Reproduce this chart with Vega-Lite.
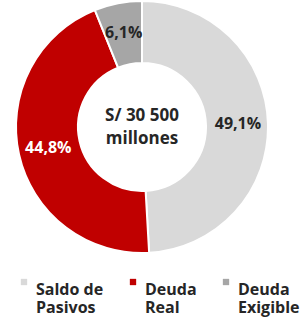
{
  "$schema": "https://vega.github.io/schema/vega-lite/v6.json",
  "width": 284,
  "height": 254,
  "autosize": "none",
  "padding": {"left": 0, "top": 0, "right": 19, "bottom": 64},
  "background": "white",
  "datasets": {
    "slices": [
      {"categoria": "Saldo de Pasivos", "pct": 49.1, "etiqueta": "49,1%", "orden": 1},
      {"categoria": "Deuda Real", "pct": 44.8, "etiqueta": "44,8%", "orden": 2},
      {"categoria": "Deuda Exigible", "pct": 6.1, "etiqueta": "6,1%", "orden": 3}
    ],
    "centro": [{"texto": "S/ 30 500\nmillones"}]
  },
  "layer": [
    {
      "data": {"name": "slices"},
      "mark": {"type": "arc", "outerRadius": 126, "innerRadius": 64, "stroke": "white", "strokeWidth": 2},
      "encoding": {
        "theta": {"field": "pct", "type": "quantitative", "stack": true},
        "order": {"field": "orden", "type": "quantitative"},
        "color": {
          "field": "categoria",
          "type": "nominal",
          "scale": {
            "domain": ["Saldo de Pasivos", "Deuda Real", "Deuda Exigible"],
            "range": ["#d9d9d9", "#c00000", "#a6a6a6"]
          },
          "legend": {
            "title": null,
            "orient": "none",
            "legendX": 16,
            "legendY": 274,
            "direction": "horizontal",
            "symbolType": "square",
            "symbolSize": 40,
            "symbolStrokeWidth": 0,
            "symbolOffset": 0,
            "labelFont": "Open Sans",
            "labelFontSize": 16,
            "labelFontWeight": "bold",
            "labelColor": "#262626",
            "labelLineHeight": 18,
            "labelBaseline": "top",
            "labelOffset": 4,
            "columnPadding": 21,
            "labelExpr": "datum.label == 'Saldo de Pasivos' ? ['Saldo de', 'Pasivos'] : split(datum.label, ' ')"
          }
        }
      }
    },
    {
      "data": {"name": "slices"},
      "mark": {"type": "text", "radius": 96, "font": "Open Sans", "fontSize": 16, "fontWeight": "bold"},
      "encoding": {
        "theta": {"field": "pct", "type": "quantitative", "stack": true},
        "order": {"field": "orden", "type": "quantitative"},
        "text": {"field": "etiqueta", "type": "nominal"},
        "color": {
          "field": "categoria",
          "type": "nominal",
          "scale": {
            "domain": ["Saldo de Pasivos", "Deuda Real", "Deuda Exigible"],
            "range": ["#262626", "#ffffff", "#262626"]
          },
          "legend": null
        }
      }
    },
    {
      "data": {"name": "centro"},
      "mark": {"type": "text", "font": "Open Sans", "fontSize": 17, "fontWeight": "bold", "color": "#262626", "lineBreak": "\n", "lineHeight": 23, "baseline": "middle", "dy": -11},
      "encoding": {"text": {"field": "texto", "type": "nominal"}}
    }
  ],
  "resolve": {"scale": {"color": "independent"}},
  "config": {"view": {"stroke": null}}
}
